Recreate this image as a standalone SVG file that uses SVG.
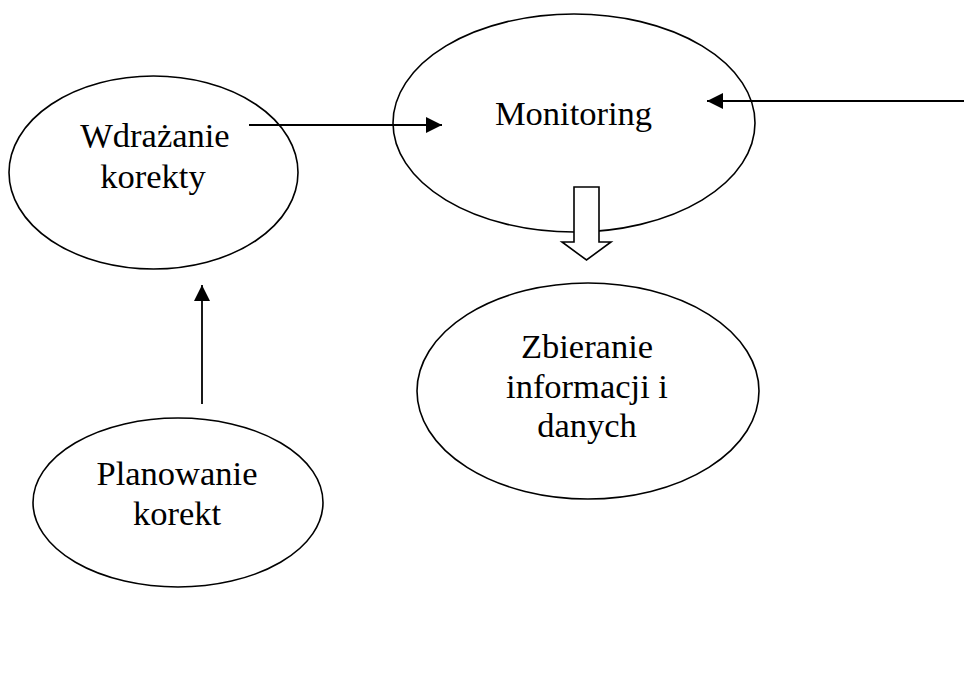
<svg xmlns="http://www.w3.org/2000/svg" width="964" height="674" viewBox="0 0 964 674">
<defs>
<style>
.node{fill:#fff;stroke:#000;stroke-width:1.6}
.lbl{font-family:"Liberation Serif","Times New Roman",serif;font-size:34.5px;fill:#000;text-anchor:middle}
.conn{stroke:#000;stroke-width:1.8;fill:none}
.block{fill:#fff;stroke:#000;stroke-width:1.6;stroke-linejoin:miter}
</style>
<marker id="ah" viewBox="0 0 16 16" refX="16" refY="8" markerWidth="16" markerHeight="16" markerUnits="userSpaceOnUse" orient="auto">
<path d="M0,0 L16,8 L0,16 Z" fill="#000"/>
</marker>
</defs>
<rect width="964" height="674" fill="#fff"/>
<g id="node-wdrazanie">
<ellipse class="node" cx="153.5" cy="172.5" rx="144.5" ry="96.5"/>
<text class="lbl" x="155" y="147">Wdrażanie</text>
<text class="lbl" x="153" y="188">korekty</text>
</g>
<g id="node-monitoring">
<ellipse class="node" cx="574" cy="123" rx="181" ry="109"/>
<text class="lbl" x="573.5" y="125">Monitoring</text>
</g>
<g id="node-zbieranie">
<ellipse class="node" cx="588" cy="391" rx="171" ry="108"/>
<text class="lbl" x="587" y="358">Zbieranie</text>
<text class="lbl" x="587" y="398">informacji i</text>
<text class="lbl" x="587" y="437">danych</text>
</g>
<g id="node-planowanie">
<ellipse class="node" cx="178" cy="502.5" rx="145" ry="84.5"/>
<text class="lbl" x="177" y="485">Planowanie</text>
<text class="lbl" x="177" y="525">korekt</text>
</g>
<g id="connectors">
<line class="conn" x1="249" y1="125" x2="442" y2="125" marker-end="url(#ah)"/>
<line class="conn" x1="964" y1="101" x2="707" y2="101" marker-end="url(#ah)"/>
<line class="conn" x1="202" y1="404" x2="202" y2="285" marker-end="url(#ah)"/>
<path class="block" d="M574,187 L599,187 L599,242 L611,242 L586.5,260 L562,242 L574,242 Z"/>
</g>
</svg>
